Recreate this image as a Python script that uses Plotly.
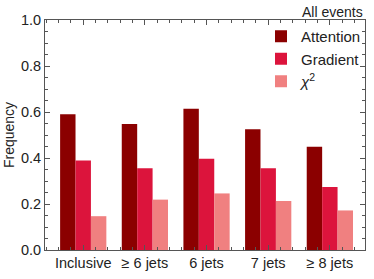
import plotly.graph_objects as go

categories = ["Inclusive", "≥ 6 jets", "6 jets", "7 jets", "≥ 8 jets"]
attention = [0.590, 0.548, 0.614, 0.525, 0.449]
gradient = [0.389, 0.355, 0.397, 0.355, 0.274]
chi2 = [0.147, 0.219, 0.246, 0.213, 0.172]
series_names = ["Attention", "Gradient", "<i>χ</i><sup>2</sup>"]
colors = ["#8B0000", "#DC143C", "#F08080"]

xpos = list(range(len(categories)))
fig = go.Figure()
for name, vals, col in zip(series_names, [attention, gradient, chi2], colors):
    fig.add_trace(go.Bar(x=xpos, y=vals, name=name, marker=dict(color=col, line=dict(width=0))))

font = "Liberation Sans, Arial, sans-serif"
axcol = "#555555"
fig.update_layout(
    width=374, height=279,
    margin=dict(l=44, r=8, t=20, b=23),
    paper_bgcolor="white", plot_bgcolor="white",
    barmode="group", bargap=0.25, bargroupgap=0,
    font=dict(family=font, size=14, color="#222222"),
    showlegend=True,
    legend=dict(x=0.675, y=1.0, xanchor="left", yanchor="top",
                bgcolor="rgba(0,0,0,0)", font=dict(size=15),
                itemwidth=30, tracegroupgap=4),
    xaxis=dict(range=[-0.62, 4.57], tickmode="array", tickvals=xpos, ticktext=categories,
               ticks="inside", ticklen=5, tickcolor=axcol, showline=True, linecolor=axcol,
               linewidth=1, mirror="allticks", showgrid=False, zeroline=False,
               tickfont=dict(size=14.5),
               minor=dict(dtick=0.2, tick0=0, ticks="inside", ticklen=3, tickcolor=axcol, showgrid=False)),
    yaxis=dict(range=[0, 1], tickvals=[0, 0.2, 0.4, 0.6, 0.8, 1.0], tickformat=".1f",
               ticks="inside", ticklen=5, tickcolor=axcol, showline=True, linecolor=axcol,
               linewidth=1, mirror="allticks", showgrid=False, zeroline=False,
               tickfont=dict(size=14.5),
               title=dict(text="Frequency", font=dict(size=14), standoff=3),
               minor=dict(dtick=0.05, tick0=0, ticks="inside", ticklen=3, tickcolor=axcol, showgrid=False)),
    annotations=[dict(text="All events", x=1, y=1, xref="paper", yref="paper",
                      xanchor="right", yanchor="bottom", showarrow=False,
                      font=dict(size=14), yshift=-2)],
)
fig.write_html("out.html", config={"displayModeBar": False},
               post_script="document.body.style.margin='0px';")
